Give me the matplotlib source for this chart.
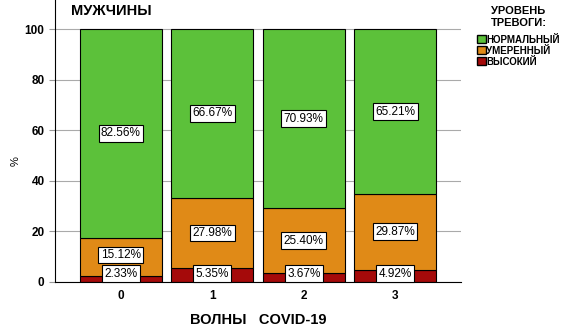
import matplotlib
matplotlib.use("Agg")
from matplotlib import pyplot as plt
from matplotlib.patches import Patch

waves = ['0', '1', '2', '3']
high = [2.33, 5.35, 3.67, 4.92]
moderate = [15.12, 27.98, 25.40, 29.87]
normal = [82.56, 66.67, 70.93, 65.21]

c_normal = '#5cc13a'
c_moderate = '#e08a17'
c_high = '#a50a0a'

plt.rcParams['font.family'] = ['Liberation Sans', 'DejaVu Sans']
plt.rcParams['font.weight'] = 'bold'

f = plt.figure(figsize=(5.69, 3.29), dpi=100)
ax = f.add_axes([55 / 569, (329 - 282) / 329, (461 - 55) / 569, 282 / 329])

x = list(range(len(waves)))
bot2 = [h + m for h, m in zip(high, moderate)]
ax.bar(x, high, width=0.9, color=c_high, edgecolor='black', linewidth=0.8, zorder=2)
ax.bar(x, moderate, bottom=high, width=0.9, color=c_moderate, edgecolor='black', linewidth=0.8, zorder=2)
ax.bar(x, normal, bottom=bot2, width=0.9, color=c_normal, edgecolor='black', linewidth=0.8, zorder=2)

box = dict(boxstyle='square,pad=0.2', facecolor='white', edgecolor='black', linewidth=0.8)
for i in x:
    y_h = max(high[i] / 2, 3.3)
    y_m = max(high[i] + moderate[i] / 2, y_h + 7.4)
    y_n = bot2[i] + normal[i] / 2
    for yy, v in [(y_h, high[i]), (y_m, moderate[i]), (y_n, normal[i])]:
        ax.text(i, yy, '%.2f%%' % v, ha='center', va='center', fontsize=8.5,
                fontweight='normal', bbox=box, zorder=3)

ax.set_xlim(-0.72, 3.72)
ax.set_ylim(0, 111.5)
ax.set_yticks([0, 20, 40, 60, 80, 100])
ax.set_xticks(x)
ax.set_xticklabels(waves)
ax.tick_params(labelsize=8.5, length=4, color='#999999')
ax.tick_params(axis='x', length=0, pad=6)
ax.yaxis.grid(True, color='#aaaaaa', linewidth=0.8, zorder=0)
ax.set_axisbelow(True)
for s in ['top', 'right']:
    ax.spines[s].set_visible(False)
ax.spines['left'].set_linewidth(0.8)
ax.spines['bottom'].set_linewidth(0.8)

ax.set_ylabel('%', fontsize=8, fontweight='normal')
ax.yaxis.set_label_coords(-0.085, 0.43)
ax.set_xlabel('ВОЛНЫ   COVID-19', fontsize=10.5, fontweight='bold', labelpad=8)
ax.text(0.04, 0.985, 'МУЖЧИНЫ', transform=ax.transAxes, fontsize=10.5,
        ha='left', va='top')

handles = [Patch(facecolor=c_normal, edgecolor='black'),
           Patch(facecolor=c_moderate, edgecolor='black'),
           Patch(facecolor=c_high, edgecolor='black')]
leg = f.legend(handles, ['НОРМАЛЬНЫЙ', 'УМЕРЕННЫЙ', 'ВЫСОКИЙ'],
               title='УРОВЕНЬ\nТРЕВОГИ:', loc='upper left',
               bbox_to_anchor=(469 / 569, 1.005), frameon=False,
               prop={'size': 7, 'weight': 'bold'}, title_fontsize=8,
               handlelength=0.9, handleheight=0.9,
               handletextpad=0.1, labelspacing=0.1, borderpad=0.3)
leg.get_title().set_fontweight('bold')
leg.get_title().set_ha('center')
leg._legend_box.sep = 5

f.savefig('out.png', dpi=100)
